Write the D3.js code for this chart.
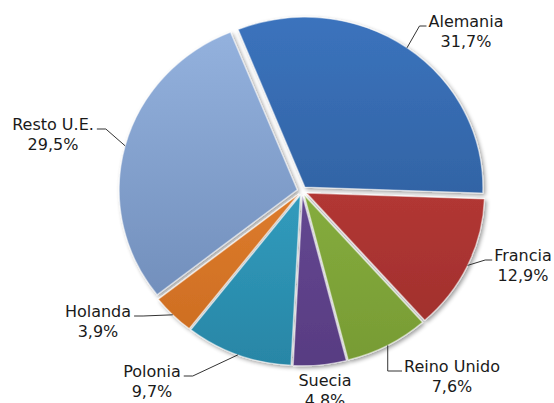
<!DOCTYPE html>
<html>
<head>
<meta charset="utf-8">
<script src="https://cdn.jsdelivr.net/npm/d3@7"></script>
<style>
  body { margin: 0; background: #fff; }
  text { font-family: "DejaVu Sans", sans-serif; fill: #1a1a1a; }
</style>
</head>
<body>
<svg id="chart" width="554" height="403"></svg>
<script>
// Data: share by destination country (%)
const countries = ["Alemania", "Francia", "Reino Unido", "Suecia", "Polonia", "Holanda", "Resto U.E."];
const shares = [31.7, 12.9, 7.6, 4.8, 9.7, 3.9, 29.5];
const pctLabels = ["31,7%", "12,9%", "7,6%", "4,8%", "9,7%", "3,9%", "29,5%"];

// colours (top / bottom of each slice gradient)
const topColors = ["#3b73bd", "#c8403d", "#93bd46", "#6f53a0", "#3ab0d3", "#ee8c38", "#95b3df"];
const bottomColors = ["#2a568f", "#9c2e2b", "#779b34", "#583c82", "#2886a6", "#cb6b20", "#6a87b4"];

// where each label sits: [centre x, first baseline], and which side the leader comes from
const labelPos = [[466, 27], [523, 261], [452, 372], [325, 386], [152, 377], [98, 317], [53, 130]];
const leaderSide = ["left", "left", "left", "none", "right", "right", "right"];

const cx = 302, cy = 191;
const radius = 178;
const squash = 0.955;
const explode = 5;
const startAngle = -22 * Math.PI / 180;

const svg = d3.select('#chart');
const defs = svg.append('defs');

// soft drop shadow
const shadow = defs.append('filter').attr('id', 'shadow')
    .attr('x', '-20%').attr('y', '-20%').attr('width', '140%').attr('height', '140%');
shadow.append('feGaussianBlur').attr('in', 'SourceAlpha').attr('stdDeviation', 2);
shadow.append('feOffset').attr('dx', 1.5).attr('dy', 2).attr('result', 'off');
shadow.append('feComponentTransfer').append('feFuncA').attr('type', 'linear').attr('slope', 0.4);
const merge = shadow.append('feMerge');
merge.append('feMergeNode');
merge.append('feMergeNode').attr('in', 'SourceGraphic');

countries.forEach((c, i) => {
    const g = defs.append('linearGradient').attr('id', 'grad' + i)
        .attr('gradientUnits', 'userSpaceOnUse')
        .attr('x1', 0).attr('y1', -radius).attr('x2', 0).attr('y2', radius);
    g.append('stop').attr('offset', '0%').attr('stop-color', topColors[i]);
    g.append('stop').attr('offset', '100%').attr('stop-color', bottomColors[i]);
});

const pie = d3.pie()
    .sort(null)
    .startAngle(startAngle)
    .endAngle(startAngle + 2 * Math.PI)
    .value(d => d);

const arcs = pie(shares);

const arc = d3.arc().innerRadius(0).outerRadius(radius);
const edgeArc = d3.arc().innerRadius(radius).outerRadius(radius);

function offset(d) {
    const a = (d.startAngle + d.endAngle) / 2;
    return [explode * Math.sin(a), -explode * Math.cos(a)];
}

const pieGroup = svg.append('g')
    .attr('transform', `translate(${cx},${cy}) scale(1,${squash})`)
    .attr('filter', 'url(#shadow)');

pieGroup.selectAll('path')
    .data(arcs)
    .enter().append('path')
    .attr('transform', d => `translate(${offset(d)})`)
    .attr('d', arc)
    .attr('fill', (d, i) => `url(#grad${i})`)
    .attr('stroke', 'rgba(255,255,255,0.5)')
    .attr('stroke-width', 1.3)
    .attr('stroke-linejoin', 'round');

// Labels
const labels = svg.append('g');
arcs.forEach((d, i) => {
    const [lx, ly] = labelPos[i];
    const t = labels.append('text')
        .attr('x', lx).attr('y', ly)
        .attr('text-anchor', 'middle')
        .style('font-size', '16px');
    t.append('tspan').attr('x', lx).text(countries[i]);
    t.append('tspan').attr('x', lx).attr('dy', 19.5).text(pctLabels[i]);

    if (leaderSide[i] === 'none') return;

    const nameWidth = t.select('tspan').node().getComputedTextLength();
    const [ex, ey] = edgeArc.centroid(d);
    const [ox, oy] = offset(d);
    const edge = [cx + ex + ox, cy + (ey + oy) * squash];
    const lineY = ly - 1;
    let end, elbow;
    if (leaderSide[i] === 'left') {
        end = [lx - nameWidth / 2 - 2, lineY];
        elbow = [end[0] - 7, lineY];
    } else {
        end = [lx + nameWidth / 2 + 3, lineY];
        elbow = [end[0] + 9, lineY];
    }
    if (i === 2) elbow = [edge[0], lineY];

    labels.append('path')
        .attr('d', d3.line()([edge, elbow, end]))
        .attr('fill', 'none')
        .attr('stroke', '#333')
        .attr('stroke-width', 1);
});
</script>
</body>
</html>
